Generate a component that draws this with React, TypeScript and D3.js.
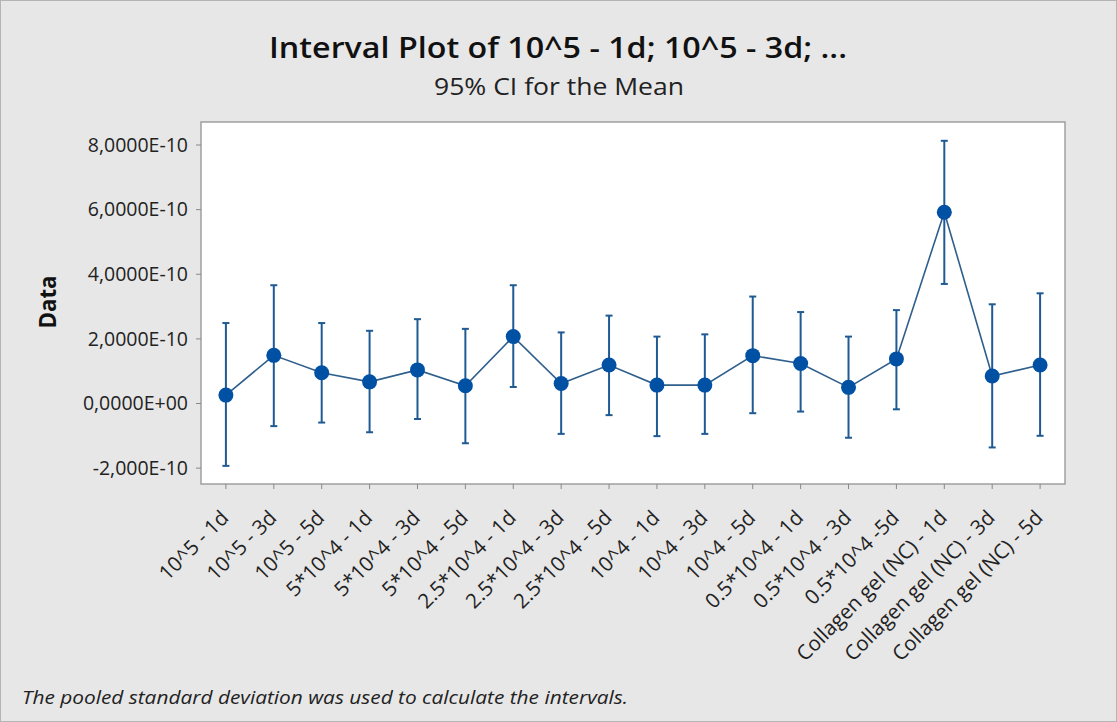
import React from "react";
import * as d3 from "d3";

const categories = [
  "10^5 - 1d", "10^5 - 3d", "10^5 - 5d",
  "5*10^4 - 1d", "5*10^4 - 3d", "5*10^4 - 5d",
  "2.5*10^4 - 1d", "2.5*10^4 - 3d", "2.5*10^4 - 5d",
  "10^4 - 1d", "10^4 - 3d", "10^4 - 5d",
  "0.5*10^4 - 1d", "0.5*10^4 - 3d", "0.5*10^4 -5d",
  "Collagen gel (NC) - 1d", "Collagen gel (NC) - 3d", "Collagen gel (NC) - 5d",
];
// values in units of 1e-10
const means = [0.26, 1.49, 0.95, 0.67, 1.04, 0.55, 2.07, 0.62, 1.19, 0.57, 0.57, 1.48, 1.24, 0.50, 1.38, 5.92, 0.85, 1.19];
const upper = [2.49, 3.66, 2.49, 2.25, 2.61, 2.31, 3.66, 2.20, 2.72, 2.07, 2.14, 3.31, 2.83, 2.07, 2.89, 8.13, 3.07, 3.41];
const lower = [-1.93, -0.70, -0.59, -0.89, -0.48, -1.23, 0.51, -0.94, -0.36, -1.01, -0.94, -0.30, -0.25, -1.06, -0.18, 3.70, -1.36, -1.00];
const yTicks = [-2, 0, 2, 4, 6, 8];
const yTickLabels = ["-2,000E-10", "0,0000E+00", "2,0000E-10", "4,0000E-10", "6,0000E-10", "8,0000E-10"];

const W = 1117, H = 722;
const L = 201, R = 1065, T = 122, B = 484;
const FONT = "'Open Sans', 'Noto Sans', sans-serif";

export default function App() {
  const x = d3.scaleBand<string>().domain(categories).range([L, R]).paddingOuter(0.02).paddingInner(0);
  const bw = x.bandwidth();
  const cx = (c: string) => (x(c) as number) + bw / 2;
  const y = d3.scaleLinear().domain([0, 8]).range([403.5, 145]);
  const line = d3.line<number>().x((_, i) => cx(categories[i])).y((d) => y(d));
  const ink = "#1f5a93";
  return (
    <svg width={W} height={H} style={{ position: "absolute", left: 0, top: 0, display: "block" }} fontFamily={FONT}>
      <rect x={0.5} y={0.5} width={W - 1} height={H - 1} fill="#e7e7e7" stroke="#b4b4b4" />
      <text x={558} y={58} textAnchor="middle" fontSize={29} fill="#111" fontWeight={600} textLength={578} lengthAdjust="spacingAndGlyphs">Interval Plot of 10^5 - 1d; 10^5 - 3d; ...</text>
      <text x={559} y={95} textAnchor="middle" fontSize={24} fill="#222" textLength={250} lengthAdjust="spacingAndGlyphs">95% CI for the Mean</text>
      <rect x={L} y={T} width={R - L} height={B - T} fill="#fff" stroke="#a0a0a0" strokeWidth={1.5} />
      {yTicks.map((t, i) => (
        <g key={t}>
          <line x1={L - 5} x2={L} y1={y(t)} y2={y(t)} stroke="#888" />
          <text x={L - 13} y={y(t)} dy="0.35em" textAnchor="end" fontSize={19.5} fill="#222">{yTickLabels[i]}</text>
        </g>
      ))}
      <text transform={`translate(56,302) rotate(-90)`} textAnchor="middle" fontSize={24} fontWeight={700} fill="#111" textLength={53} lengthAdjust="spacingAndGlyphs">Data</text>
      {categories.map((c) => (
        <g key={c}>
          <line x1={cx(c)} x2={cx(c)} y1={B} y2={B + 5} stroke="#888" />
          <text transform={`translate(${cx(c) + 4},${B + 35}) rotate(-45)`} textAnchor="end" fontSize={20.5} fill="#222">{c}</text>
        </g>
      ))}
      <path d={line(means) || ""} fill="none" stroke="#2f5f8c" strokeWidth={1.6} />
      {categories.map((c, i) => (
        <g key={c} stroke={ink} strokeWidth={2}>
          <line x1={cx(c)} x2={cx(c)} y1={y(lower[i])} y2={y(upper[i])} />
          <line x1={cx(c) - 3.5} x2={cx(c) + 3.5} y1={y(lower[i])} y2={y(lower[i])} />
          <line x1={cx(c) - 3.5} x2={cx(c) + 3.5} y1={y(upper[i])} y2={y(upper[i])} />
        </g>
      ))}
      {categories.map((c, i) => (
        <circle key={c} cx={cx(c)} cy={y(means[i])} r={7.5} fill="#0050a4" />
      ))}
      <text x={22} y={704} fontSize={19} fontStyle="italic" fill="#222" textLength={606} lengthAdjust="spacingAndGlyphs">The pooled standard deviation was used to calculate the intervals.</text>
    </svg>
  );
}
